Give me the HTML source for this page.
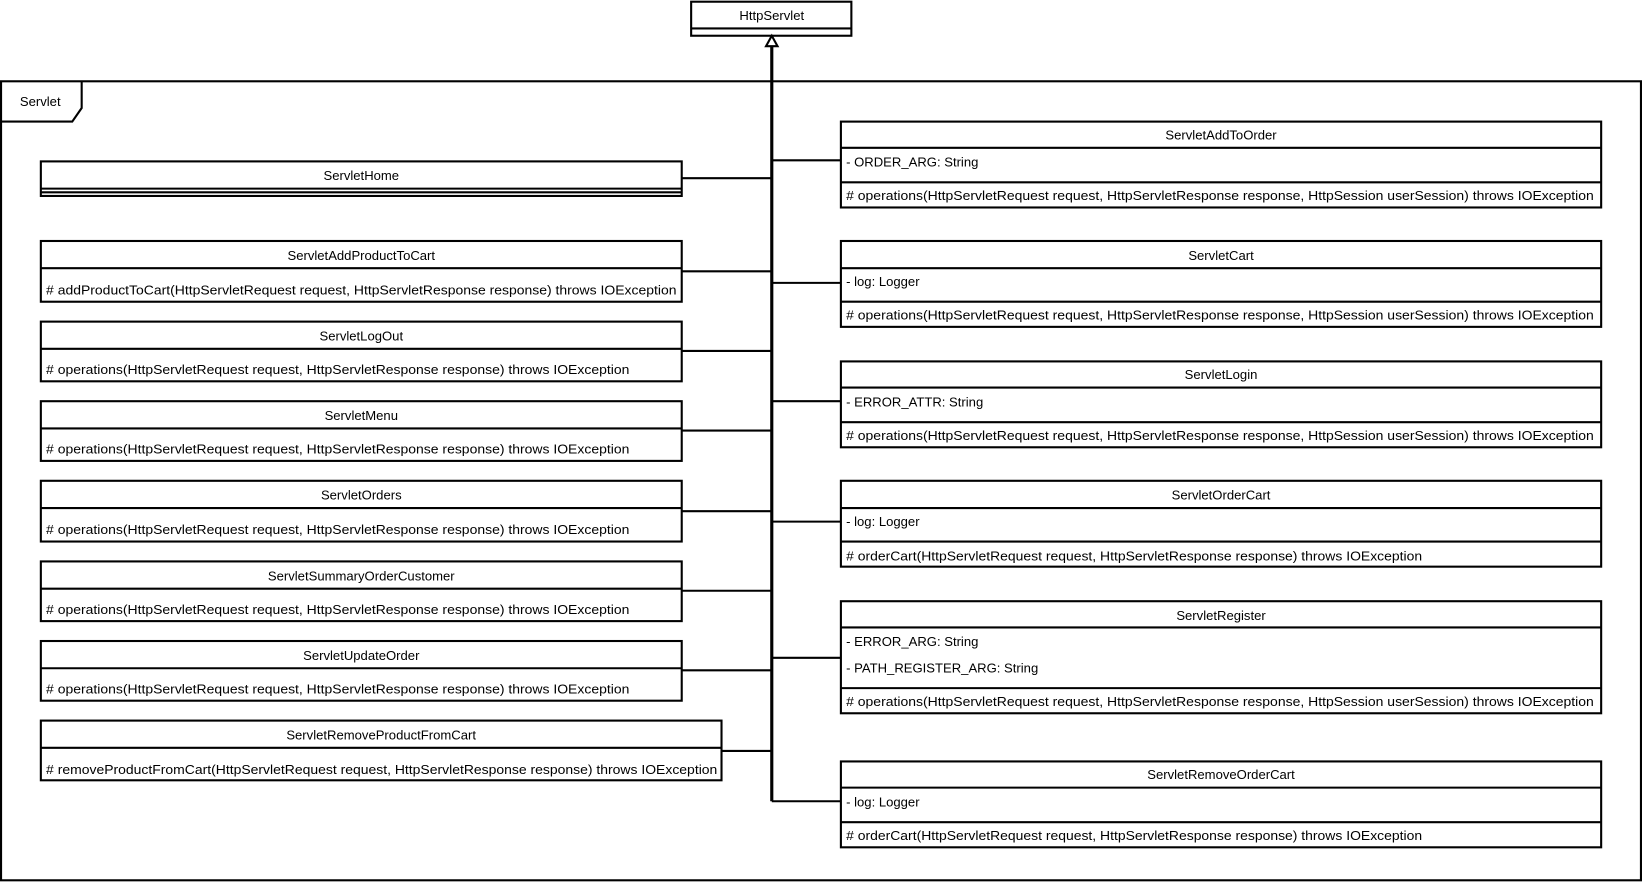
<!DOCTYPE html>
<html><head><meta charset="utf-8"><style>
html,body{margin:0;padding:0;background:#fff;}
svg{display:block;}
text{font-family:"Liberation Sans",Arial,sans-serif;font-size:12.5px;fill:#000;}
.t{text-anchor:middle;}
</style></head><body>
<svg width="1642" height="882" viewBox="0 0 1568 842" xmlns="http://www.w3.org/2000/svg">
<g fill="none" stroke="#000" stroke-width="2">
<!-- frame -->
<rect x="1" y="77.5" width="1566" height="763"/>
<path d="M1 116 L69 116 L78 103 L78 77.5"/>
<!-- HttpServlet -->
<rect x="660" y="1.5" width="153" height="32.5"/>
<line x1="660" y1="27" x2="813" y2="27"/>
<!-- trunk -->
<line x1="737" y1="44" x2="737" y2="765" stroke-width="3"/>
<!-- left connectors -->
<line x1="651" y1="170" x2="737" y2="170"/>
<line x1="651" y1="259" x2="737" y2="259"/>
<line x1="651" y1="335" x2="737" y2="335"/>
<line x1="651" y1="411" x2="737" y2="411"/>
<line x1="651" y1="488" x2="737" y2="488"/>
<line x1="651" y1="564" x2="737" y2="564"/>
<line x1="651" y1="640" x2="737" y2="640"/>
<line x1="689" y1="717" x2="737" y2="717"/>
<!-- right connectors -->
<line x1="737" y1="153" x2="803" y2="153"/>
<line x1="737" y1="270" x2="803" y2="270"/>
<line x1="737" y1="383" x2="803" y2="383"/>
<line x1="737" y1="498" x2="803" y2="498"/>
<line x1="737" y1="628" x2="803" y2="628"/>
<line x1="737" y1="765" x2="803" y2="765"/>
<!-- left boxes -->
<rect x="39" y="154" width="612" height="33"/>
<line x1="39" y1="180" x2="651" y2="180"/><line x1="39" y1="183.5" x2="651" y2="183.5"/>
<rect x="39" y="230" width="612" height="58"/><line x1="39" y1="256" x2="651" y2="256"/>
<rect x="39" y="307" width="612" height="57"/><line x1="39" y1="333" x2="651" y2="333"/>
<rect x="39" y="383" width="612" height="57"/><line x1="39" y1="409" x2="651" y2="409"/>
<rect x="39" y="459" width="612" height="58"/><line x1="39" y1="485" x2="651" y2="485"/>
<rect x="39" y="536" width="612" height="57"/><line x1="39" y1="562" x2="651" y2="562"/>
<rect x="39" y="612" width="612" height="57"/><line x1="39" y1="638" x2="651" y2="638"/>
<rect x="39" y="688" width="650" height="57"/><line x1="39" y1="714" x2="689" y2="714"/>
<!-- right boxes -->
<rect x="803" y="116" width="726" height="82"/><line x1="803" y1="141" x2="1529" y2="141"/><line x1="803" y1="174" x2="1529" y2="174"/>
<rect x="803" y="230" width="726" height="82"/><line x1="803" y1="256" x2="1529" y2="256"/><line x1="803" y1="288" x2="1529" y2="288"/>
<rect x="803" y="345" width="726" height="82"/><line x1="803" y1="370" x2="1529" y2="370"/><line x1="803" y1="403" x2="1529" y2="403"/>
<rect x="803" y="459" width="726" height="82"/><line x1="803" y1="485" x2="1529" y2="485"/><line x1="803" y1="517" x2="1529" y2="517"/>
<rect x="803" y="574" width="726" height="107"/><line x1="803" y1="599" x2="1529" y2="599"/><line x1="803" y1="657" x2="1529" y2="657"/>
<rect x="803" y="727" width="726" height="82"/><line x1="803" y1="752" x2="1529" y2="752"/><line x1="803" y1="785" x2="1529" y2="785"/>
</g>
<polygon points="737,34 731.5,44 742.5,44" fill="#fff" stroke="#000" stroke-width="2"/>

<text x="19" y="101">Servlet</text>
<text class="t" x="737" y="19">HttpServlet</text>

<text class="t" x="345" y="172">ServletHome</text>
<text class="t" x="345" y="248">ServletAddProductToCart</text>
<text x="44" y="281" textLength="602" lengthAdjust="spacingAndGlyphs"># addProductToCart(HttpServletRequest request, HttpServletResponse response) throws IOException</text>
<text class="t" x="345" y="325">ServletLogOut</text>
<text x="44" y="357" textLength="557" lengthAdjust="spacingAndGlyphs"># operations(HttpServletRequest request, HttpServletResponse response) throws IOException</text>
<text class="t" x="345" y="401">ServletMenu</text>
<text x="44" y="433" textLength="557" lengthAdjust="spacingAndGlyphs"># operations(HttpServletRequest request, HttpServletResponse response) throws IOException</text>
<text class="t" x="345" y="477">ServletOrders</text>
<text x="44" y="510" textLength="557" lengthAdjust="spacingAndGlyphs"># operations(HttpServletRequest request, HttpServletResponse response) throws IOException</text>
<text class="t" x="345" y="554">ServletSummaryOrderCustomer</text>
<text x="44" y="586" textLength="557" lengthAdjust="spacingAndGlyphs"># operations(HttpServletRequest request, HttpServletResponse response) throws IOException</text>
<text class="t" x="345" y="630">ServletUpdateOrder</text>
<text x="44" y="662" textLength="557" lengthAdjust="spacingAndGlyphs"># operations(HttpServletRequest request, HttpServletResponse response) throws IOException</text>
<text class="t" x="364" y="706">ServletRemoveProductFromCart</text>
<text x="44" y="739" textLength="641" lengthAdjust="spacingAndGlyphs"># removeProductFromCart(HttpServletRequest request, HttpServletResponse response) throws IOException</text>

<text class="t" x="1166" y="133">ServletAddToOrder</text>
<text x="808" y="159">- ORDER_ARG: String</text>
<text x="808" y="191" textLength="714" lengthAdjust="spacingAndGlyphs"># operations(HttpServletRequest request, HttpServletResponse response, HttpSession userSession) throws IOException</text>
<text class="t" x="1166" y="248">ServletCart</text>
<text x="808" y="273">- log: Logger</text>
<text x="808" y="305" textLength="714" lengthAdjust="spacingAndGlyphs"># operations(HttpServletRequest request, HttpServletResponse response, HttpSession userSession) throws IOException</text>
<text class="t" x="1166" y="362">ServletLogin</text>
<text x="808" y="388">- ERROR_ATTR: String</text>
<text x="808" y="420" textLength="714" lengthAdjust="spacingAndGlyphs"># operations(HttpServletRequest request, HttpServletResponse response, HttpSession userSession) throws IOException</text>
<text class="t" x="1166" y="477">ServletOrderCart</text>
<text x="808" y="502">- log: Logger</text>
<text x="808" y="535" textLength="550" lengthAdjust="spacingAndGlyphs"># orderCart(HttpServletRequest request, HttpServletResponse response) throws IOException</text>
<text class="t" x="1166" y="592">ServletRegister</text>
<text x="808" y="617">- ERROR_ARG: String</text>
<text x="808" y="642">- PATH_REGISTER_ARG: String</text>
<text x="808" y="674" textLength="714" lengthAdjust="spacingAndGlyphs"># operations(HttpServletRequest request, HttpServletResponse response, HttpSession userSession) throws IOException</text>
<text class="t" x="1166" y="744">ServletRemoveOrderCart</text>
<text x="808" y="770">- log: Logger</text>
<text x="808" y="802" textLength="550" lengthAdjust="spacingAndGlyphs"># orderCart(HttpServletRequest request, HttpServletResponse response) throws IOException</text>
</svg>
</body></html>
